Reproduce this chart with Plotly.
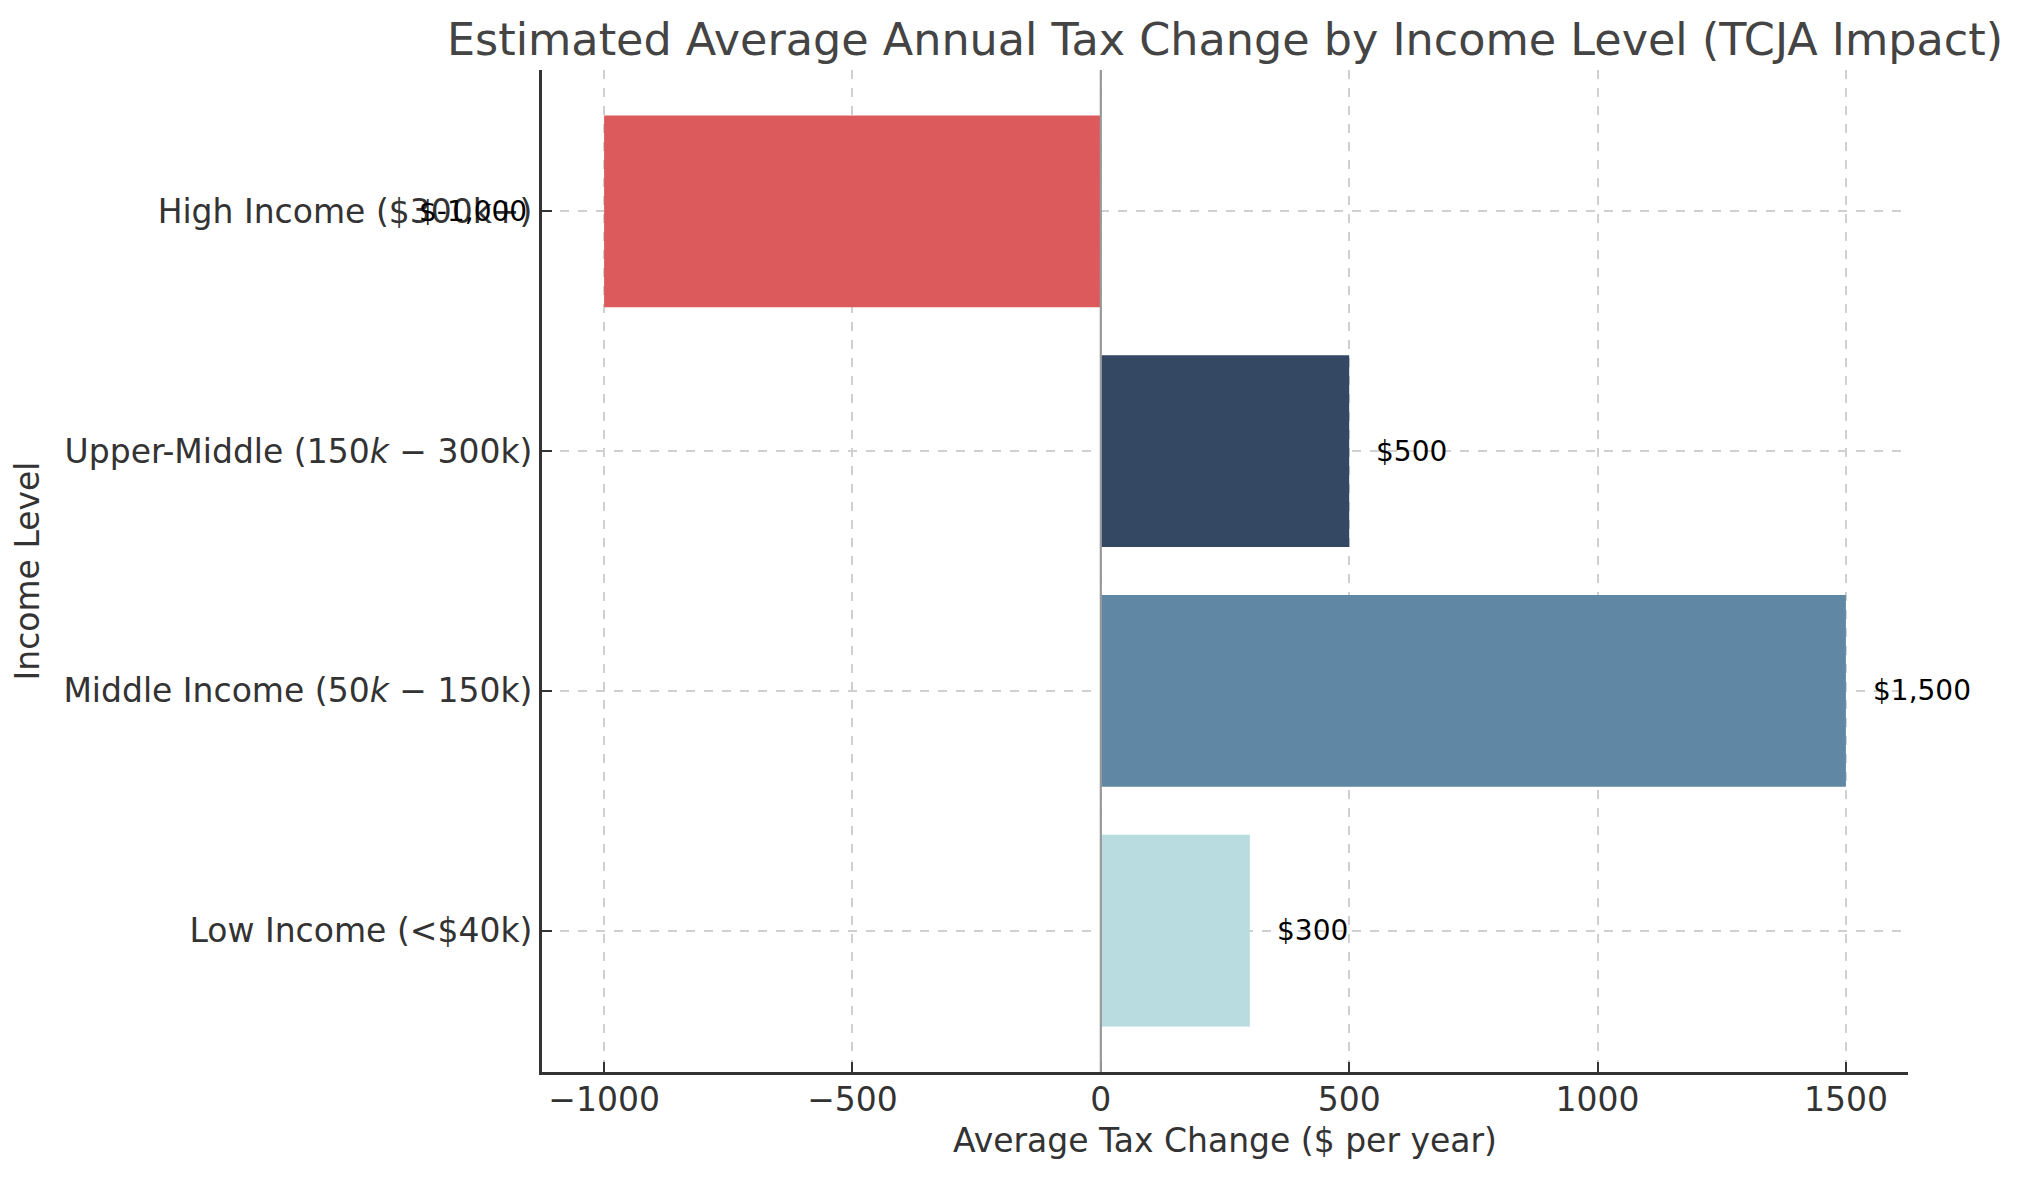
import plotly.graph_objects as go

categories = ["Low Income (<$40k)", "Middle Income (50<i>k</i> − 150k)",
              "Upper-Middle (150<i>k</i> − 300k)", "High Income ($300k+)"]
tax_change = [300, 1500, 500, -1000]
bar_colors = ["#b8dcdf", "#6088a4", "#344763", "#dc5a5c"]
x_ticks = [-1000, -500, 0, 500, 1000, 1500]

FONT = "DejaVu Sans"

fig = go.Figure()
fig.add_trace(go.Bar(
    y=categories, x=tax_change, orientation="h",
    marker=dict(color=bar_colors, line=dict(width=0)),
    width=0.8, hoverinfo="skip", showlegend=False,
))

for cat, v in zip(categories, tax_change):
    label = "${:,}".format(v)
    if v >= 0:
        fig.add_annotation(x=v + 50, y=cat, text=label, xanchor="left", yanchor="middle",
                           showarrow=False, font=dict(family=FONT, size=28, color="#000000"))
    else:
        fig.add_annotation(x=v, y=cat, xshift=-75, text=label, xanchor="right", yanchor="middle",
                           showarrow=False, font=dict(family=FONT, size=28, color="#000000"))

fig.add_shape(type="line", x0=0, x1=0, y0=0, y1=1, xref="x", yref="paper",
              line=dict(color="#999999", width=2.2), layer="above")

L, R, T, B = 534, 121, 62, 117
fig.update_layout(
    width=2021, height=1181,
    margin=dict(l=L, r=R, t=T, b=B, autoexpand=False),
    paper_bgcolor="white", plot_bgcolor="white",
    font=dict(family=FONT, color="#333333", size=33),
    title=dict(text="Estimated Average Annual Tax Change by Income Level (TCJA Impact)",
               x=(L + (2021 - R)) / 2 / 2021, xanchor="center", y=1 - 31 / 1181, yanchor="middle",
               font=dict(family=FONT, size=44.5, color="#444444")),
    xaxis=dict(
        range=[-1125, 1625], tickvals=x_ticks, ticktext=["−1000", "−500", "0", "500", "1000", "1500"],
        showgrid=True, gridcolor="#d0d0d0", griddash="dash", gridwidth=1.5,
        zeroline=False, showline=True, linecolor="#333333", linewidth=3,
        ticks="inside", ticklen=10, tickwidth=2, tickcolor="#333333",
        tickfont=dict(size=33, color="#333333"), ticklabelstandoff=-4,
        title=dict(text="Average Tax Change ($ per year)", standoff=12,
                   font=dict(size=33, color="#333333")),
        automargin=False,
    ),
    yaxis=dict(
        range=[-0.59, 3.59], categoryorder="array", categoryarray=categories,
        showgrid=True, gridcolor="#d0d0d0", griddash="dash", gridwidth=1.5,
        zeroline=False, showline=True, linecolor="#333333", linewidth=3,
        ticks="inside", ticklen=10, tickwidth=2, tickcolor="#333333",
        tickfont=dict(size=33, color="#333333"),
        title=dict(text="Income Level", standoff=16, font=dict(size=33, color="#333333")),
        automargin=False,
    ),
)

fig.write_html("out.html")
